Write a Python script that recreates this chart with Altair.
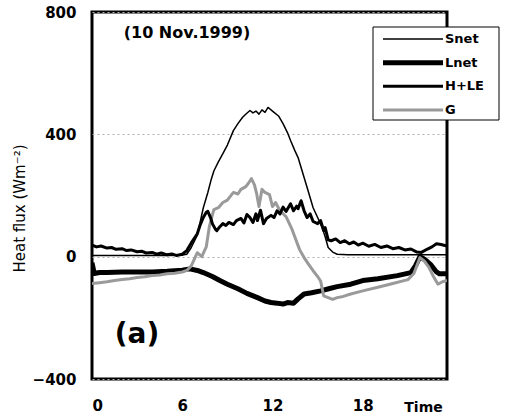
import altair as alt
import pandas as pd

# ---- data (hour of day, W m-2) ----
t_snet = [0, 1, 2, 3, 4, 5, 6, 6.3, 6.6, 7.0,
          7.2, 7.4, 7.7, 7.9, 8.1, 8.4, 8.7, 9.0, 9.4, 9.7,
          10.0, 10.2, 10.5, 10.7, 10.9, 11.1, 11.3, 11.5, 11.7, 11.9,
          12.1, 12.4, 12.7, 13.0, 13.2, 13.5, 13.7, 14.1, 14.4, 14.7,
          15.0, 15.3, 15.5, 15.7, 16.0, 16.3, 17, 18, 19, 20,
          21, 22, 23, 23.6]
snet = [4, 4, 4, 4, 4, 4, 5, 8, 30, 70,
        115, 160, 210, 248, 280, 310, 337, 365, 412, 435,
        455, 465, 478, 470, 476, 466, 480, 472, 488, 480,
        472, 460, 435, 405, 380, 345, 324, 259, 210, 160,
        128, 95, 65, 30, 15, 8, 6, 6, 6, 6,
        6, 6, 6, 6]

t_lnet = [0, 0.15, 0.5, 1, 2, 3, 4, 5, 6, 6.5,
          7.0, 7.4, 8.0, 8.5, 9.0, 9.7, 10.3, 11.0, 11.5, 11.9,
          12.3, 12.7, 13.0, 13.4, 13.7, 14.1, 14.6, 15.2, 15.8, 16.3,
          17.2, 18.0, 19.0, 20.3, 21.2, 21.5, 21.8, 22.1, 22.5, 22.9,
          23.1, 23.6]
lnet = [-20, -55, -52, -52, -50, -50, -50, -48, -44, -40,
        -45, -52, -65, -78, -90, -105, -120, -134, -145, -150,
        -152, -155, -150, -152, -138, -122, -118, -112, -104, -98,
        -90, -78, -72, -62, -52, -30, 0, -8, -25, -50,
        -56, -56]

t_hle = [0, 0.3, 0.6, 1.0, 1.3, 1.6, 2.0, 2.3, 2.6, 3.0,
         3.3, 3.6, 4.0, 4.3, 4.6, 5.0, 5.3, 5.6, 6.0, 6.3,
         6.6, 7.0, 7.2, 7.4, 7.6, 7.7, 7.9, 8.0, 8.2, 8.3,
         8.5, 8.7, 8.9, 9.1, 9.4, 9.6, 9.9, 10.1, 10.3, 10.5,
         10.7, 10.9, 11.0, 11.2, 11.4, 11.6, 11.9, 12.1, 12.3, 12.5,
         12.7, 12.9, 13.2, 13.4, 13.6, 13.7, 13.9, 14.1, 14.3, 14.5,
         14.7, 15.0, 15.2, 15.4, 15.5, 15.7, 15.9, 16.2, 16.5, 16.8,
         17.1, 17.4, 17.7, 18.0, 18.4, 18.8, 19.2, 19.6, 20.0, 20.4,
         20.8, 21.2, 21.6, 21.9, 22.3, 22.6, 22.9, 23.2, 23.6]
hle = [38, 32, 35, 28, 30, 24, 26, 20, 22, 16,
       18, 12, 14, 8, 12, 6, 9, 4, 8, 20,
       45, 75, 105, 128, 145, 148, 125, 108, 90, 85,
       98, 108, 102, 112, 105, 118, 125, 110, 138, 128,
       112, 140, 118, 152, 108, 125, 135, 128, 150, 140,
       162, 148, 173, 150, 165, 157, 183, 150, 128, 140,
       115, 108, 118, 85, 95, 55, 52, 58, 46, 52,
       42, 48, 38, 44, 34, 40, 30, 35, 26, 30,
       22, 25, 15, 14, 25, 32, 42, 40, 35]

t_g = [0, 0.5, 1, 1.5, 2, 2.5, 3, 3.5, 4, 4.5,
       5, 5.5, 6, 6.3, 6.6, 7.0, 7.3, 7.6, 7.8, 8.1,
       8.4, 8.7, 9.0, 9.4, 9.7, 9.9, 10.2, 10.4, 10.6, 10.8,
       10.95, 11.1, 11.3, 11.5, 11.8, 12.0, 12.2, 12.5, 12.9, 13.3,
       13.8, 14.1, 14.4, 14.7, 15.0, 15.2, 15.4, 15.7, 16.0, 16.3,
       16.7, 17.2, 18.0, 19.0, 20.0, 21.0, 21.4, 21.8, 22.1, 22.4,
       22.7, 23.0, 23.3, 23.6]
g = [-88, -85, -82, -78, -75, -72, -68, -66, -62, -60,
     -56, -54, -50, -45, -30, 13, 0, 33, 98, 154,
     160, 177, 185, 210, 205, 220, 228, 240, 255, 235,
     205, 164, 220, 210, 203, 164, 177, 150, 131, 89,
     23, -3, -25, -46, -65, -80, -128, -134, -140, -134,
     -130, -122, -112, -100, -88, -75, -55, -3, -15, -35,
     -65, -90, -82, -78]

series_order = ["Snet", "Lnet", "H+LE", "G"]
series_colors = ["#000000", "#000000", "#000000", "#9a9a9a"]
series_widths = [1.5, 5, 3, 3]
x_ticks = [0, 6, 12, 18]
y_ticks = [-400, 0, 400, 800]

rows = []
for name, ts, vs in [("Lnet", t_lnet, lnet), ("G", t_g, g),
                     ("H+LE", t_hle, hle), ("Snet", t_snet, snet)]:
    for t, v in zip(ts, vs):
        rows.append({"series": name, "t": t, "v": v})
df = pd.DataFrame(rows)
leg_df = pd.DataFrame({"series": series_order, "row": list(range(len(series_order)))})

FONT = "DejaVu Sans"

color_scale = alt.Scale(domain=series_order, range=series_colors)
width_scale = alt.Scale(type="ordinal", domain=series_order, range=series_widths)

lines = alt.Chart(df).mark_line(strokeJoin="round", clip=True).encode(
    x=alt.X("t:Q", scale=alt.Scale(domain=[0, 23.6], nice=False, zero=False),
            axis=alt.Axis(values=x_ticks, ticks=False, domain=False, grid=False,
                          labelFont=FONT, labelFontSize=15, labelFontWeight="bold",
                          labelColor="black", labelPadding=19,
                          title="Time", titleFont=FONT, titleFontSize=14,
                          titleFontWeight="bold", titleX=331, titleY=28,
                          titleBaseline="middle", titleAlign="center")),
    y=alt.Y("v:Q", scale=alt.Scale(domain=[-400, 800], nice=False),
            axis=alt.Axis(values=y_ticks, ticks=False, domain=False, grid=True,
                          gridDash=[2, 3], gridColor="#b0b0b0", gridWidth=1,
                          labelFont=FONT, labelFontSize=15, labelFontWeight="bold",
                          labelColor="black", labelPadding=16,
                          title="Heat flux (Wm⁻²)", titleFont=FONT, titleFontSize=15,
                          titleFontWeight="normal", titleX=-73, titleY=196,
                          titleAlign="center", titleBaseline="middle")),
    color=alt.Color("series:N", scale=color_scale, legend=None),
    strokeWidth=alt.StrokeWidth("series:N", scale=width_scale, legend=None),
)

# ---- hand-built legend box (top right, overhanging the frame) ----
leg_box = alt.Chart(pd.DataFrame({"k": [0]})).mark_rect(
    fill="white", stroke="black", strokeWidth=1
).encode(x=alt.value(281), x2=alt.value(407), y=alt.value(15), y2=alt.value(108))

leg_y = alt.Y("row:Q", scale=alt.Scale(domain=[0, 3], range=[27, 98]), axis=None)

leg_lines = alt.Chart(leg_df).mark_rule().encode(
    x=alt.value(291), x2=alt.value(351), y=leg_y,
    color=alt.Color("series:N", scale=color_scale, legend=None),
    strokeWidth=alt.StrokeWidth("series:N", scale=width_scale, legend=None),
)

leg_text = alt.Chart(leg_df).mark_text(
    font=FONT, fontSize=13, fontWeight="bold", align="left", baseline="middle",
    color="black", dx=0
).encode(x=alt.value(353), y=leg_y, text="series:N")

date_txt = alt.Chart(pd.DataFrame({"s": ["(10 Nov.1999)"]})).mark_text(
    font=FONT, fontSize=16, fontWeight="bold", align="center", baseline="middle", color="black"
).encode(x=alt.value(95), y=alt.value(21), text="s:N")

panel_txt = alt.Chart(pd.DataFrame({"s": ["(a)"]})).mark_text(
    font=FONT, fontSize=28, fontWeight="bold", align="center", baseline="middle", color="black"
).encode(x=alt.value(45), y=alt.value(323), text="s:N")

chart = alt.layer(lines, leg_box, leg_lines, leg_text, date_txt, panel_txt).resolve_scale(
    y="independent"
).properties(
    width=355, height=367,
    background="white",
    autosize=alt.AutoSizeParams(type="none"),
    padding={"left": 92, "top": 12, "right": 58, "bottom": 39},
).configure_view(stroke="black", strokeWidth=3)

chart.save("out.html", embed_options={"renderer": "svg", "actions": False})
